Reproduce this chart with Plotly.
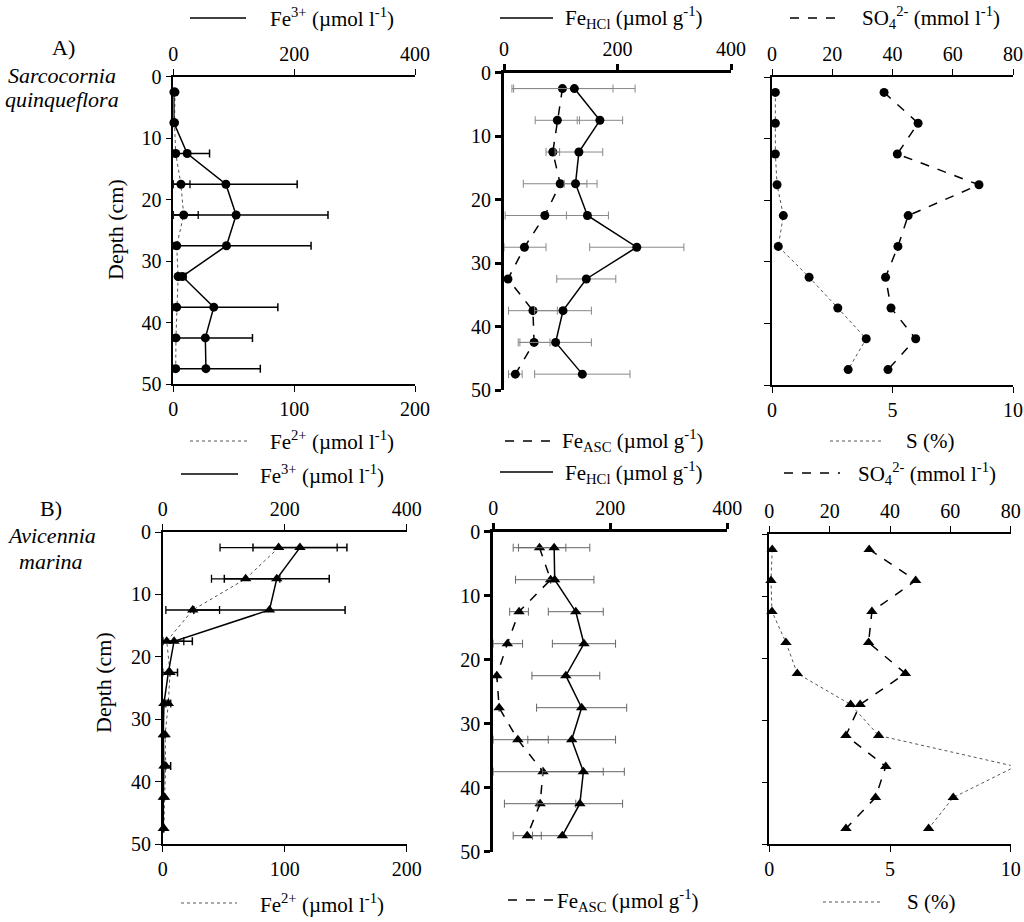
import plotly.graph_objects as go

W, H = 1024, 922
FONT = "Liberation Serif, Times New Roman, serif"

depth = [2.5, 7.5, 12.5, 17.5, 22.5, 27.5, 32.5, 37.5, 42.5, 47.5]

# A) Sarcocornia quinqueflora
a_fe3 = [1, 1, 23, 87, 104, 88, 15, 67, 53, 54]
a_fe3_err = [0, 0, 37, 118, 152, 140, 6, 106, 78, 90]
a_fe2 = [1.4, 1, 2, 6.3, 8.6, 2.8, 4, 2.8, 2.2, 2]
a_fe2_err = [0, 0, 0, 7.5, 12, 0, 0, 0, 0, 0]
a_hcl = [124, 169, 132, 126, 147, 234, 145, 104, 91, 138]
a_hcl_err = [107, 40, 42, 20, 37, 83, 52, 50, 63, 84]
a_asc = [103, 94, 86, 99, 72, 36, 7, 51, 53, 20]
a_asc_err = [89, 39, 12, 65, 70, 38, 0, 43, 28, 12]
a_so4 = [37.2, 48.5, 41.6, 68.7, 45.2, 41.8, 37.7, 39.5, 47.7, 38.5]
a_s = [0.14, 0.14, 0.14, 0.21, 0.47, 0.26, 1.54, 2.73, 3.91, 3.16]

# B) Avicennia marina
b_fe3 = [225, 187, 175, 18.6, 9.3, 2, 1, 2, 1, 1]
b_fe3_err = [77, 86, 124, 30, 15, 0, 0, 11, 0, 0]
b_fe2 = [95, 68, 24.6, 3.3, 6, 4.6, 2, 2.5, 1.5, 1]
b_fe2_err = [48, 28, 22, 14, 0, 2, 0, 0, 0, 0]
b_hcl = [104, 105, 141, 155, 124, 151, 134, 154, 148, 118]
b_hcl_err = [61, 67, 47, 54, 58, 77, 75, 70, 73, 51]
b_asc = [79, 98, 44, 24, 6, 10, 42, 85, 80, 58]
b_asc_err = [45, 0, 16, 26, 0, 0, 52, 103, 61, 24]
b_so4 = [33.1, 48.5, 34.0, 32.9, 45.1, 30.1, 25.4, 38.6, 35.2, 25.4]
b_s = [0.12, 0.07, 0.11, 0.69, 1.16, 3.37, 4.53, 10.2, 7.62, 6.6]

depth_ticks = [0, 10, 20, 30, 40, 50]

# panel rectangles in pixels (x0, x1, y0, y1)
rects = {
    "A1": (173.3, 415, 76.7, 384),
    "A2": (504, 731, 72.7, 390),
    "A3": (772, 1013, 77, 385),
    "B1": (162.7, 406.7, 532, 844),
    "B2": (493.3, 727.3, 531.7, 851.7),
    "B3": (769.3, 1010.7, 534, 844),
}


def xd(r):
    return [r[0] / W, r[1] / W]


def yd(r):
    return [1 - r[3] / H, 1 - r[2] / H]


tickfont = dict(family=FONT, size=20, color="black")


def xax(r=None, rng=(0, 1), tv=None, side="bottom", anchor="y", overlay=None, lw=1.5):
    d = dict(range=list(rng), tickvals=tv, side=side, anchor=anchor, showgrid=False,
             zeroline=False, showline=True, linecolor="black", linewidth=lw,
             ticks="outside", ticklen=6, tickwidth=lw if lw > 1.5 else 1.2, tickcolor="black",
             tickfont=tickfont, fixedrange=True, automargin=False)
    if overlay:
        d["overlaying"] = overlay
    else:
        d["domain"] = xd(r)
    return d


def yax(r, anchor, labels=True, lw=1.5):
    return dict(domain=yd(r), range=[50, 0], tickvals=depth_ticks, anchor=anchor,
                showgrid=False, zeroline=False, showline=True, linecolor="black",
                linewidth=lw, ticks="outside", ticklen=6,
                tickwidth=lw if lw > 1.5 else 1.2, tickcolor="black",
                showticklabels=labels, tickfont=tickfont, fixedrange=True,
                automargin=False)


def minus(vals, errs):
    return [min(v, e) for v, e in zip(vals, errs)]


fig = go.Figure()


def add(x, xa, ya, symbol, color="black", dash="solid", width=1.5, err=None,
        errcolor="black", errw=1.5, msize=None, clip=False):
    kw = {}
    if err is not None:
        kw["error_x"] = dict(type="data", array=err, arrayminus=minus(x, err),
                             symmetric=False, color=errcolor, thickness=errw, width=4)
    fig.add_trace(go.Scatter(
        x=x, y=depth, xaxis=xa, yaxis=ya, mode="lines+markers",
        line=dict(color=color, dash=dash, width=width),
        marker=dict(symbol=symbol,
                    size=msize if msize is not None else (9 if symbol == "circle" else 10),
                    color="black", opacity=1, line=dict(width=0)),
        cliponaxis=clip, showlegend=False, **kw))


# A1
add(a_fe2, "x", "y", "circle", color="#555", dash="dot", width=1, err=a_fe2_err, errw=1.3)
add(a_fe3, "x2", "y", "circle", err=a_fe3_err)
# A2
add(a_asc, "x3", "y2", "circle", dash="dash", err=a_asc_err, errcolor="#888", errw=1)
add(a_hcl, "x3", "y2", "circle", err=a_hcl_err, errcolor="#888", errw=1)
# A3
add(a_s, "x4", "y3", "circle", color="#555", dash="dot", width=1)
add(a_so4, "x5", "y3", "circle", dash="dash")
# B1
add(b_fe2, "x6", "y4", "triangle-up", color="#555", dash="dot", width=1, err=b_fe2_err, errw=1.3)
add(b_fe3, "x7", "y4", "triangle-up", err=b_fe3_err)
# B2
add(b_asc, "x8", "y5", "triangle-up", dash="dash", err=b_asc_err, errcolor="#666", errw=1)
add(b_hcl, "x8", "y5", "triangle-up", err=b_hcl_err, errcolor="#666", errw=1)
# B3
add(b_s, "x9", "y6", "triangle-up", color="#555", dash="dot", width=1,
    msize=[0 if v > 10 else 10 for v in b_s])
add(b_so4, "x10", "y6", "triangle-up", dash="dash")

layout = dict(
    width=W, height=H, margin=dict(l=0, r=0, t=0, b=0, pad=0, autoexpand=False),
    paper_bgcolor="white", plot_bgcolor="rgba(0,0,0,0)", showlegend=False,
    font=dict(family=FONT, size=20, color="black"),
    xaxis=xax(rects["A1"], (0, 200), [0, 100, 200], "bottom", "y"),
    xaxis2=xax(None, (0, 400), [0, 200, 400], "top", "y", overlay="x"),
    yaxis=yax(rects["A1"], "x"),
    xaxis3=xax(rects["A2"], (0, 400), [0, 200, 400], "top", "y2", lw=3),
    yaxis2=yax(rects["A2"], "x3", lw=3),
    xaxis4=xax(rects["A3"], (0, 10), [0, 5, 10], "bottom", "y3"),
    xaxis5=xax(None, (0, 80), [0, 20, 40, 60, 80], "top", "y3", overlay="x4"),
    yaxis3=yax(rects["A3"], "x4", labels=False),
    xaxis6=xax(rects["B1"], (0, 200), [0, 100, 200], "bottom", "y4"),
    xaxis7=xax(None, (0, 400), [0, 200, 400], "top", "y4", overlay="x6"),
    yaxis4=yax(rects["B1"], "x6"),
    xaxis8=xax(rects["B2"], (0, 400), [0, 200, 400], "top", "y5", lw=3),
    yaxis5=yax(rects["B2"], "x8", lw=3),
    xaxis9=xax(rects["B3"], (0, 10), [0, 5, 10], "bottom", "y6"),
    xaxis10=xax(None, (0, 80), [0, 20, 40, 60, 80], "top", "y6", overlay="x9"),
    yaxis6=yax(rects["B3"], "x9", labels=False),
)
fig.update_layout(**layout)

# legend keys (line samples + labels)
legend_items = [
    # (x0, x1, y, dash, color, width, text, text_x)
    (190, 246, 18, "solid", "black", 1.5, "Fe<sup>3+</sup> (µmol l<sup>-1</sup>)", 268),
    (190, 247, 441, "dot", "#555", 1, "Fe<sup>2+</sup> (µmol l<sup>-1</sup>)", 268),
    (500, 553, 18, "solid", "black", 1.5, "Fe<sub>HCl</sub> (µmol g<sup>-1</sup>)", 563),
    (505, 555, 441, "dash", "black", 1.5, "Fe<sub>ASC</sub> (µmol g<sup>-1</sup>)", 560),
    (790, 842, 18, "dash", "black", 1.5, "SO<sub>4</sub><sup>2-</sup> (mmol l<sup>-1</sup>)", 860),
    (830, 883, 441, "dot", "#555", 1, "S (%)", 904),
    (181, 238, 474, "solid", "black", 1.5, "Fe<sup>3+</sup> (µmol l<sup>-1</sup>)", 258),
    (181, 237, 903, "dot", "#555", 1, "Fe<sup>2+</sup> (µmol l<sup>-1</sup>)", 258),
    (500, 553, 472, "solid", "black", 1.5, "Fe<sub>HCl</sub> (µmol g<sup>-1</sup>)", 563),
    (508, 555, 900, "dash", "black", 1.5, "Fe<sub>ASC</sub> (µmol g<sup>-1</sup>)", 555),
    (784, 840, 473, "dash", "black", 1.5, "SO<sub>4</sub><sup>2-</sup> (mmol l<sup>-1</sup>)", 856),
    (823, 880, 902, "dot", "#555", 1, "S (%)", 905),
]
for x0, x1, yy, dash, col, w, txt, tx in legend_items:
    fig.add_shape(type="line", xref="paper", yref="paper", x0=x0 / W, x1=x1 / W,
                  y0=1 - yy / H, y1=1 - yy / H, line=dict(color=col, width=w, dash=dash))
    fig.add_annotation(x=tx / W, y=1 - yy / H, xref="paper", yref="paper", text=txt,
                       showarrow=False, xanchor="left", yanchor="middle",
                       font=dict(family=FONT, size=21, color="black"))

labels = [
    (63, 48, "A)", False),
    (62, 75, "Sarcocornia", True),
    (62, 100, "quinqueflora", True),
    (51, 508, "B)", False),
    (51, 535, "Avicennia", True),
    (51, 561, "marina", True),
]
for x, y, t, it in labels:
    fig.add_annotation(x=x / W, y=1 - y / H, xref="paper", yref="paper",
                       text=f"<i>{t}</i>" if it else t, showarrow=False,
                       xanchor="center", yanchor="middle",
                       font=dict(family=FONT, size=22, color="black"))

for x, y in [(115, 230), (103, 683)]:
    fig.add_annotation(x=x / W, y=1 - y / H, xref="paper", yref="paper",
                       text="Depth (cm)", textangle=-90, showarrow=False,
                       xanchor="center", yanchor="middle",
                       font=dict(family=FONT, size=22, color="black"))

fig.write_html("out.html", config={"displayModeBar": False},
               post_script="document.body.style.margin='0';document.body.style.overflow='hidden';")
